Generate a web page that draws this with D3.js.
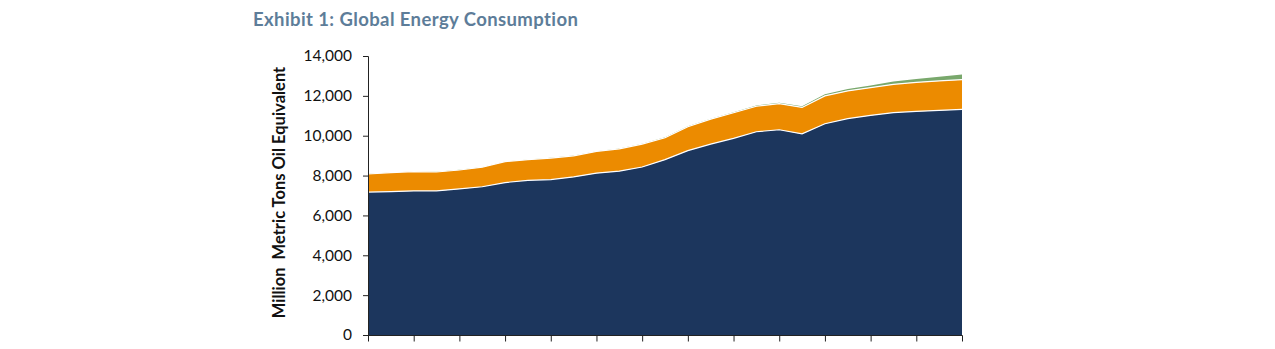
<!DOCTYPE html>
<html>
<head>
<meta charset="utf-8">
<script src="https://cdn.jsdelivr.net/npm/d3@7"></script>
<style>
	body { margin: 0; background: #fff; }
	svg { display: block; font-family: Lato, "Open Sans", sans-serif; }
	.axis path, .axis line { stroke: #222; }
	.axis text { font-size: 15.5px; fill: #111; font-family: Lato, sans-serif; }
</style>
</head>
<body>
<svg id="chart" width="1275" height="349"></svg>
<script>
var years = d3.range(1990, 2017);

// million metric tons oil equivalent
var fossil = [7170, 7190, 7230, 7230, 7330, 7440, 7650, 7760, 7800, 7930,
	8120, 8220, 8430, 8800, 9250, 9580, 9870, 10200, 10300, 10090,
	10600, 10860, 11020, 11160, 11220, 11270, 11320];
var nuclearHydro = [910, 960, 970, 950, 950, 980, 1050, 1040, 1080, 1060,
	1090, 1120, 1150, 1100, 1200, 1250, 1280, 1280, 1310, 1330,
	1400, 1390, 1390, 1420, 1460, 1480, 1490];
var renewables = [8, 8, 9, 9, 10, 10, 11, 12, 12, 13,
	14, 15, 17, 19, 22, 26, 32, 40, 50, 60,
	75, 95, 115, 140, 170, 205, 265];

var yTicks = [0, 2000, 4000, 6000, 8000, 10000, 12000, 14000];
var xTicks = d3.range(1990, 2017, 2);

var keys = ['fossil', 'nuclearHydro', 'renewables'];
var colors = {fossil: '#1c365d', nuclearHydro: '#ec8b00', renewables: '#79a86c'};

var svg = d3.select('#chart');

var data = years.map(function(y, i) {
	return {year: y, fossil: fossil[i], nuclearHydro: nuclearHydro[i], renewables: renewables[i]};
});

var x = d3.scaleLinear()
	.domain([1990, 2016])
	.range([368, 962]);

var y = d3.scaleLinear()
	.domain([0, 14000])
	.range([335, 56]);

var stack = d3.stack().keys(keys);
var series = stack(data);

var area = d3.area()
	.x(d => x(d.data.year))
	.y0(d => y(d[0]))
	.y1(d => y(d[1]));

svg.selectAll('.layer')
	.data(series.slice().reverse())
	.enter()
	.append('path')
	.attr('class', 'layer')
	.attr('d', area)
	.attr('fill', d => colors[d.key]);

// thin white seams on top of the lower layers
var seam = d3.line()
	.x(d => x(d.data.year))
	.y(d => y(d[1]));

svg.selectAll('.seam')
	.data(series.slice(0, 2))
	.enter()
	.append('path')
	.attr('class', 'seam')
	.attr('d', seam)
	.attr('fill', 'none')
	.attr('stroke', '#fff')
	.attr('stroke-width', 1.2);

var yAxis = d3.axisLeft(y)
	.tickValues(yTicks)
	.tickSize(5)
	.tickPadding(11)
	.tickFormat(d3.format(','));

svg.append('g')
	.attr('class', 'axis')
	.attr('transform', 'translate(368,0)')
	.call(yAxis)
	.call(g => g.select('.domain').attr('d', 'M-5,56.5H0.5V335.5'));

var xAxis = d3.axisBottom(x)
	.tickValues(xTicks)
	.tickSize(6)
	.tickFormat('');

svg.append('g')
	.attr('class', 'axis')
	.attr('transform', 'translate(0,335.5)')
	.call(xAxis)
	.call(g => g.select('.domain').attr('d', 'M363,0H962.5'));

svg.append('text')
	.text('Million  Metric Tons Oil Equivalent')
	.attr('transform', 'translate(285,' + (y(7150)) + ') rotate(-90)')
	.style('text-anchor', 'middle')
	.style('font-weight', 700)
	.style('font-size', '16.5px')
	.style('white-space', 'pre')
	.attr('fill', '#111');

svg.append('text')
	.text('Exhibit 1: Global Energy Consumption')
	.attr('x', 253)
	.attr('y', 26)
	.style('font-weight', 700)
	.style('font-size', '18.5px')
	.style('letter-spacing', '0.4px')
	.attr('fill', '#5d7d99');
</script>
</body>
</html>
